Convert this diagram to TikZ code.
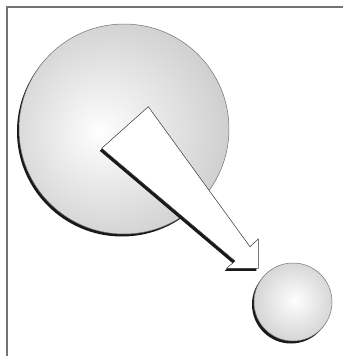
\documentclass[tikz,border=0pt]{standalone}
\usetikzlibrary{shadows}
\pgfdeclareradialshading{bigball}{\pgfpoint{-6bp}{-1bp}}{color(0bp)=(white); color(4bp)=(black!3); color(30bp)=(black!20); color(52bp)=(black!27); color(60bp)=(black!27)}
\pgfdeclareradialshading{smallball}{\pgfpoint{1bp}{1bp}}{color(0bp)=(white); color(4bp)=(black!3); color(30bp)=(black!19); color(52bp)=(black!26); color(60bp)=(black!26)}
\definecolor{framec}{gray}{0.45}
\definecolor{shadowc}{gray}{0.1}
\tikzset{
  ball/.style={circle, inner sep=0pt, draw=black!55, line width=0.5pt,
    drop shadow={shadow xshift=-2pt, shadow yshift=-2.5pt, fill=shadowc, opacity=1}},
  arrowbody/.style={fill=white, draw=black!80, line width=0.5pt, line join=miter},
  arrowshadow/.style={fill=shadowc}
}
\begin{document}
\begin{tikzpicture}[x=1pt,y=-1pt]
\useasboundingbox (0,0) rectangle (343,356);
\draw[framec, line width=1.5pt] (343,7) -- (7,7) -- (7,356);
\node[ball, shading=bigball, minimum size=210pt] (big) at (124,129) {};
\node[ball, shading=smallball, minimum size=78pt] (small) at (293,302) {};
\coordinate (A) at (101.7,148.3);
\coordinate (B) at (148.3,106.7);
\coordinate (C) at (250,246.7);
\coordinate (D) at (258.3,239);
\coordinate (E) at (258.3,268.3);
\coordinate (F) at (226.7,268.3);
\coordinate (G) at (235,261);
\fill[arrowshadow] ([shift={(-2pt,-2.5pt)}]A) -- ([shift={(-2pt,-2.5pt)}]B) -- ([shift={(-2pt,-2.5pt)}]C) -- ([shift={(-2pt,-2.5pt)}]D) -- ([shift={(-2pt,-2.5pt)}]E) -- ([shift={(-2pt,-2.5pt)}]F) -- ([shift={(-2pt,-2.5pt)}]G) -- cycle;
\draw[arrowbody] (A) -- (B) -- (C) -- (D) -- (E) -- (F) -- (G) -- cycle;
\end{tikzpicture}
\end{document}
